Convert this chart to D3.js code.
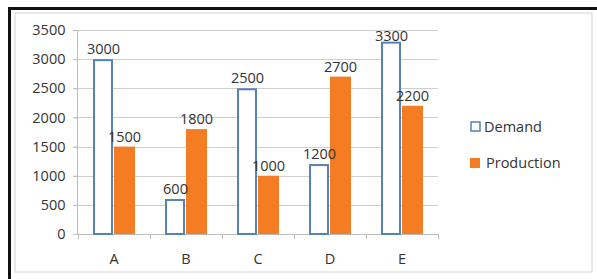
<!DOCTYPE html>
<html><head><meta charset="utf-8">
<script src="https://cdn.jsdelivr.net/npm/d3@7/dist/d3.min.js"></script>
<style>body{margin:0;background:#fff}svg{display:block}text{font-family:"Open Sans",sans-serif;fill:#333}</style>
</head><body><svg id="c" width="597" height="279"></svg>
<script>
const categories = ["A","B","C","D","E"];
const demand = [3000, 600, 2500, 1200, 3300];
const production = [1500, 1800, 1000, 2700, 2200];
const seriesNames = ["Demand","Production"];
const yTicks = [0,500,1000,1500,2000,2500,3000,3500];

const svg = d3.select("#c");
const blue = "#5583b8", orange = "#f47d24";
// frame
svg.append("rect").attr("x",15).attr("y",13).attr("width",577).attr("height",259).attr("fill","#fff").attr("stroke","#d4d4d4").attr("stroke-width",1);
svg.append("line").attr("x1",9).attr("x2",597).attr("y1",8.5).attr("y2",8.5).attr("stroke","#111").attr("stroke-width",3);
svg.append("line").attr("x1",9.5).attr("x2",9.5).attr("y1",7).attr("y2",279).attr("stroke","#111").attr("stroke-width",3);

const x = d3.scaleBand().domain(categories).range([78,438]);
const y = d3.scaleLinear().domain([0,3500]).range([234,30]);
const inner = d3.scaleBand().domain(seriesNames).range([15,57]).paddingInner(0);

// gridlines
svg.append("g").selectAll("line").data(yTicks.slice(1)).join("line")
  .attr("x1",73).attr("x2",438).attr("y1",d=>Math.round(y(d))+0.5).attr("y2",d=>Math.round(y(d))+0.5)
  .attr("stroke","#cfcfcf");
// y axis
const ya = svg.append("g").attr("transform","translate(77.5,0)")
  .call(d3.axisLeft(y).tickValues(yTicks).tickFormat(d3.format("d")).tickSize(4).tickPadding(8));
ya.select(".domain").attr("stroke","#bbb").attr("d","M0,30V234");
ya.selectAll(".tick line").attr("stroke","#bbb");
ya.selectAll("text").attr("font-size",14.5).attr("fill","#333").style("font-family","Open Sans");
// x axis
const xa = svg.append("g").attr("transform","translate(0,234.5)")
  .call(d3.axisBottom(x).tickSize(0).tickPadding(19));
xa.select(".domain").attr("stroke","#bbb").attr("d","M77,0H438");
xa.selectAll("text").attr("font-size",14.5).attr("fill","#333").style("font-family","Open Sans");
svg.append("g").selectAll("line").data(categories.concat(["end"])).join("line")
  .attr("x1",(d,i)=>Math.round(78+i*x.bandwidth())+0.5).attr("x2",(d,i)=>Math.round(78+i*x.bandwidth())+0.5)
  .attr("y1",234).attr("y2",239).attr("stroke","#bbb");

const rows = categories.map((c,i)=>({c, Demand:demand[i], Production:production[i]}));
const g = svg.append("g");
const lab = svg.append("g");
rows.forEach(r=>{
  seriesNames.forEach(s=>{
    const bx = x(r.c)+inner(s), bw = inner.bandwidth();
    if(s==="Demand"){
      g.append("rect").attr("x",bx+1).attr("y",y(r[s])+1).attr("width",bw-3).attr("height",y(0)-y(r[s])-1)
        .attr("fill","#fff").attr("stroke",blue).attr("stroke-width",2);
    } else {
      g.append("rect").attr("x",bx).attr("y",y(r[s])).attr("width",bw).attr("height",y(0)-y(r[s]))
        .attr("fill",orange);
    }
    const ty = Math.max(y(r[s])-5, 41);
    lab.append("text").attr("x",bx+bw/2).attr("y",ty).attr("text-anchor","middle")
      .attr("font-size",14.5).text(r[s]);
  });
});

// legend
const lg = svg.append("g");
lg.append("rect").attr("x",471).attr("y",122).attr("width",9).attr("height",9).attr("fill","#fff").attr("stroke",blue).attr("stroke-width",1.5);
lg.append("text").attr("x",484).attr("y",132).attr("font-size",14.5).text(seriesNames[0]);
lg.append("rect").attr("x",470).attr("y",158).attr("width",10).attr("height",10).attr("fill",orange);
lg.append("text").attr("x",486).attr("y",168).attr("font-size",14.5).text(seriesNames[1]);
</script></body></html>
